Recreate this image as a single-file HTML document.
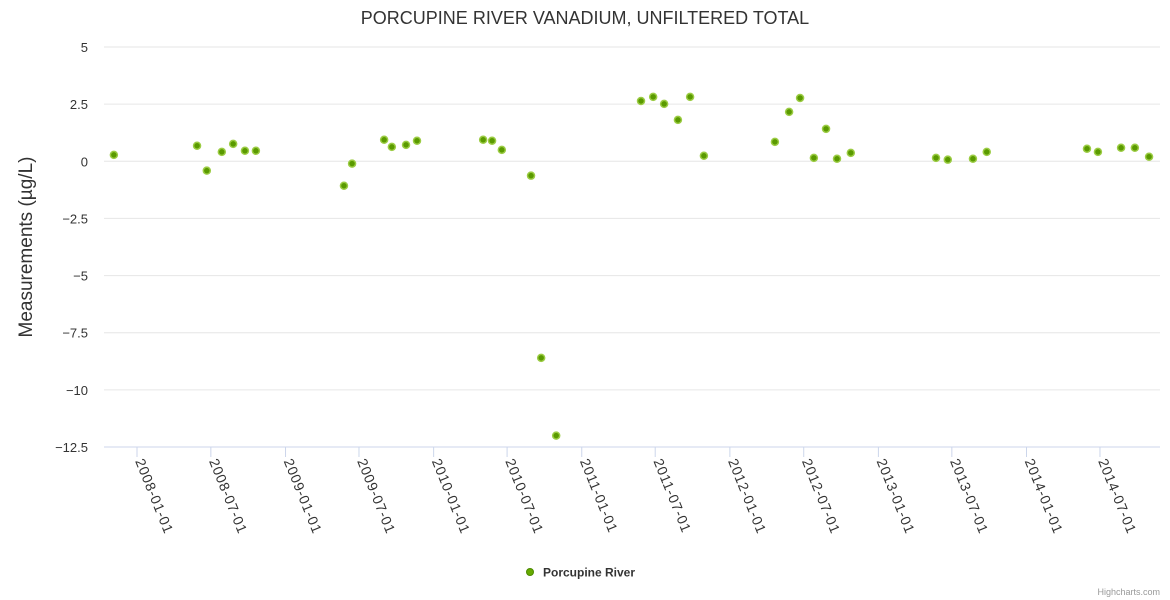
<!DOCTYPE html>
<html><head><meta charset="utf-8"><style>
html,body{margin:0;padding:0;background:#fff;}
svg{display:block;font-family:"Liberation Sans","DejaVu Sans",sans-serif;}
</style></head><body>
<svg id="chart" width="1170" height="600">
<text x="585" y="24" text-anchor="middle" font-size="18" fill="#333">PORCUPINE RIVER VANADIUM, UNFILTERED TOTAL</text>
<text transform="translate(32,247) rotate(-90)" text-anchor="middle" font-size="19" fill="#333">Measurements (µg/L)</text>
<g id="grid"></g><g id="xaxis"></g><g id="pts"></g>
<g>
<circle cx="530" cy="572" r="3.5" fill="#66aa00" stroke="#4c8a00" stroke-width="1"/>
<text x="543" y="576.5" font-size="12" font-weight="bold" fill="#333">Porcupine River</text>
</g>
<text x="1160" y="595" text-anchor="end" font-size="9" fill="#999">Highcharts.com</text>
</svg>
<script>
const yTicks=[5,2.5,0,-2.5,-5,-7.5,-10,-12.5];
const yTickLabels=["5","2.5","0","−2.5","−5","−7.5","−10","−12.5"];
const xTickDates=["2008-01-01","2008-07-01","2009-01-01","2009-07-01","2010-01-01","2010-07-01","2011-01-01","2011-07-01","2012-01-01","2012-07-01","2013-01-01","2013-07-01","2014-01-01","2014-07-01"];
const dates=["2007-11-05","2008-05-28","2008-06-21","2008-07-28","2008-08-25","2008-09-23","2008-10-20","2009-05-25","2009-06-14","2009-09-01","2009-09-20","2009-10-25","2009-11-21","2010-05-03","2010-05-25","2010-06-18","2010-08-29","2010-09-23","2010-10-30","2011-05-27","2011-06-26","2011-07-23","2011-08-26","2011-09-25","2011-10-29","2012-04-21","2012-05-26","2012-06-22","2012-07-26","2012-08-25","2012-09-21","2012-10-25","2013-05-23","2013-06-21","2013-08-22","2013-09-25","2014-05-30","2014-06-26","2014-08-22","2014-09-25","2014-10-30"];
const values=[0.28,0.68,-0.41,0.41,0.76,0.46,0.46,-1.07,-0.1,0.94,0.63,0.72,0.9,0.94,0.9,0.5,-0.63,-8.6,-12.0,2.64,2.82,2.51,1.81,2.82,0.24,0.85,2.16,2.77,0.15,1.42,0.11,0.37,0.15,0.07,0.11,0.41,0.55,0.41,0.59,0.59,0.2];
const NS="http://www.w3.org/2000/svg";
const L=104,R=1160,T=47,B=447;
const d0=Date.UTC(2008,0,1),pxPerDay=0.4058;
function day(s){const p=s.split("-");return (Date.UTC(+p[0],+p[1]-1,+p[2])-d0)/86400000;}
function xs(s){return 137+day(s)*pxPerDay;}
function ys(v){return T+(5-v)*(B-T)/17.5;}
function mk(t,a,p){const e=document.createElementNS(NS,t);for(const k in a)e.setAttribute(k,a[k]);p.appendChild(e);return e;}
const grid=document.getElementById("grid");
yTicks.forEach((v,i)=>{
 const y=ys(v);
 const g=mk("line",{x1:L,x2:R,y1:y,y2:y,stroke:i===yTicks.length-1?"#ccd6eb":"#e6e6e6","stroke-width":1},grid);
 
 
 const t=mk("text",{x:88,y:y+5,"text-anchor":"end","font-size":"13",fill:"#333"},grid);
 t.textContent=yTickLabels[i];
 
 
});
const xa=document.getElementById("xaxis");
xTickDates.forEach(s=>{
 const x=xs(s);
 const tk=mk("line",{x1:x,x2:x,y1:B,y2:B+10,stroke:"#ccd6eb"},xa);
 
 
 const t=mk("text",{transform:`translate(${x-2},${B+14}) rotate(68)`,"font-size":"14","letter-spacing":"0.8",fill:"#333"},xa);
 t.textContent=s;
 
 
});
const pts=document.getElementById("pts");
dates.forEach((s,i)=>{
 const c=mk("circle",{cx:xs(s),cy:ys(values[i]),r:3.5,fill:"#5a9a00",stroke:"#9ccc44","stroke-width":1.5},pts);
 
 
});
</script>
</body></html>
